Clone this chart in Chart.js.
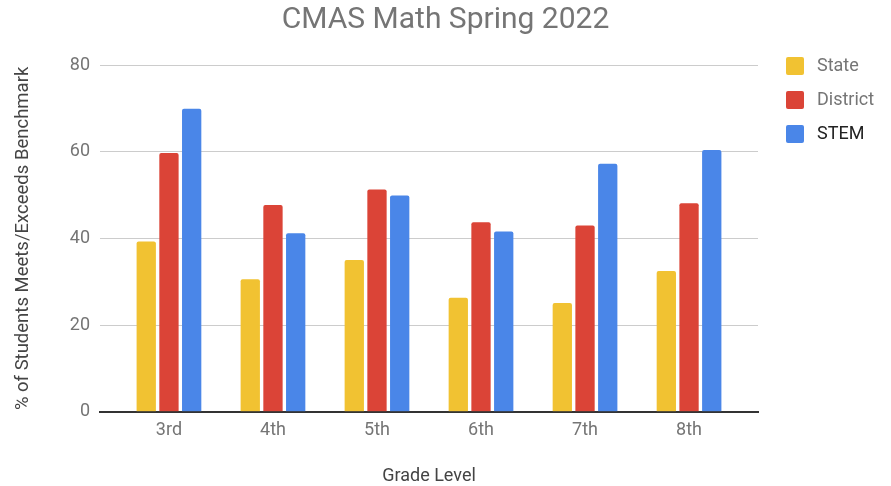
<!DOCTYPE html>
<html>
<head>
<meta charset="utf-8">
<script src="https://cdn.jsdelivr.net/npm/chart.js@4/dist/chart.umd.min.js"></script>
<style>
  html, body { margin: 0; padding: 0; background: #fff; }
  #wrap { width: 891px; height: 486px; }
</style>
</head>
<body>
<div id="wrap"><canvas id="chart"></canvas></div>
<script>
const grades = ['3rd', '4th', '5th', '6th', '7th', '8th'];
const stateValues = [39.3, 30.6, 35.0, 26.3, 25.1, 32.5];
const districtValues = [59.7, 47.7, 51.3, 43.7, 43.0, 48.1];
const stemValues = [69.9, 41.2, 49.9, 41.6, 57.2, 60.4];
const yTicks = [0, 20, 40, 60, 80];

const FONT = 'Roboto';

// legend drawn at the right, top aligned with the 80 gridline
const sideLegend = {
    id: 'sideLegend',
    afterDraw(chart) {
        const ctx = chart.ctx;
        const area = chart.chartArea;
        const x = area.right + 28;
        let y = area.top - 8;
        ctx.save();
        ctx.font = '18px ' + FONT;
        ctx.textBaseline = 'middle';
        chart.data.datasets.forEach(function(ds) {
            ctx.fillStyle = ds.backgroundColor;
            ctx.beginPath();
            ctx.roundRect(x, y, 18, 18, 2);
            ctx.fill();
            ctx.fillStyle = ds.legendColor;
            ctx.fillText(ds.label, x + 31, y + 9.5);
            y += 34;
        });
        ctx.restore();
    }
};

new Chart(document.getElementById('chart'), {
    type: 'bar',
    data: {
        labels: grades,
        datasets: [
            {label: 'State', data: stateValues, backgroundColor: '#F1C232', legendColor: '#757575'},
            {label: 'District', data: districtValues, backgroundColor: '#DB4437', legendColor: '#757575'},
            {label: 'STEM', data: stemValues, backgroundColor: '#4A86E8', legendColor: '#222222'}
        ]
    },
    options: {
        responsive: true,
        maintainAspectRatio: false,
        animation: false,
        datasets: {
            bar: {
                categoryPercentage: 0.655,
                barPercentage: 0.85,
                borderRadius: 2
            }
        },
        scales: {
            x: {
                offset: true,
                afterBuildTicks: function(scale) {
                    // extra room on both ends, like the original axis
                    scale._startValue -= 0.163;
                    scale._valueRange += 0.326;
                },
                grid: {display: false},
                border: {display: true, color: '#333333', width: 2},
                ticks: {
                    padding: 0,
                    color: '#757575',
                    font: {family: FONT, size: 18}
                },
                title: {
                    display: true,
                    text: 'Grade Level',
                    color: '#444444',
                    font: {family: FONT, size: 18, lineHeight: 1.1},
                    padding: {top: 24.8, bottom: 0}
                }
            },
            y: {
                min: 0,
                max: 80,
                afterFit: function(scale) { scale.width = 100; },
                afterBuildTicks: function(scale) {
                    scale.ticks = yTicks.map(v => ({value: v}));
                },
                grid: {color: '#cccccc', lineWidth: 1, drawTicks: false},
                border: {display: false},
                ticks: {
                    padding: 10,
                    color: '#757575',
                    font: {family: FONT, size: 18}
                },
                title: {
                    display: true,
                    text: '% of Students Meets/Exceeds Benchmark',
                    color: '#444444',
                    font: {family: FONT, size: 18.5},
                    padding: {top: 12, bottom: 0}
                }
            },
            // empty right-hand axis that keeps room for the legend
            side: {
                position: 'right',
                afterFit: function(scale) { scale.width = 133; },
                grid: {display: false},
                border: {display: false},
                ticks: {display: false}
            }
        },
        plugins: {
            legend: {display: false},
            tooltip: {enabled: false},
            title: {
                display: true,
                text: 'CMAS Math Spring 2022',
                color: '#757575',
                font: {family: FONT, size: 30, weight: 'normal'},
                padding: {top: 2, bottom: 27}
            }
        }
    },
    plugins: [sideLegend]
});
</script>
</body>
</html>
